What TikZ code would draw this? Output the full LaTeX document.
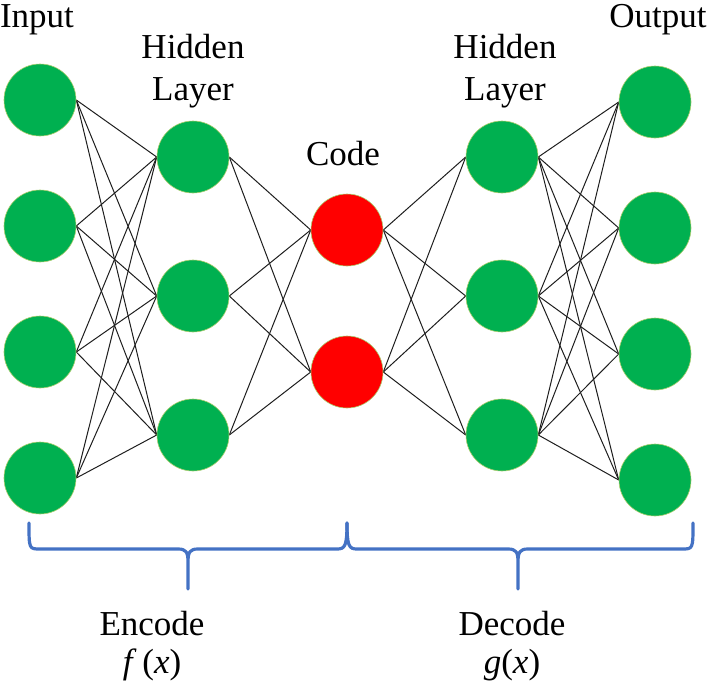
\documentclass[tikz,border=0pt]{standalone}
\usepackage{fontspec}
\setmainfont{Liberation Serif}
\newfontfamily\timesface{Liberation Serif}
\usetikzlibrary{backgrounds}
\definecolor{nodegreen}{RGB}{0,176,80}
\definecolor{codered}{RGB}{255,0,0}
\definecolor{rimgreen}{RGB}{170,205,110}
\definecolor{braceblue}{RGB}{68,114,196}
\definecolor{wiregray}{RGB}{30,30,30}
\tikzset{
  unit/.style={circle, minimum size=72pt, inner sep=0pt, fill=nodegreen, draw=rimgreen, line width=0.6pt},
  codeunit/.style={unit, fill=codered},
  wire/.style={draw=wiregray, line width=1pt},
  bracepath/.style={draw=braceblue, line width=3.2pt, line cap=round, line join=round},
  tag/.style={font=\timesface\fontsize{35}{42}\selectfont, inner sep=0pt, anchor=base, align=center}
}

\begin{document}
\begin{tikzpicture}[x=1pt, y=-1pt]
\useasboundingbox (0,0) rectangle (708,688);
% input and output layers
\foreach \i/\y in {1/100,2/226,3/352,4/478} {
  \node[unit] (in-\i) at (40,\y) {};
  \node[unit] (out-\i) at (655,\y+2) {};
}
% hidden layers
\foreach \i/\y in {1/157,2/296,3/435} {
  \node[unit] (enc-\i) at (193,\y) {};
  \node[unit] (dec-\i) at (502,\y) {};
}
% code
\node[codeunit] (code-1) at (347,230) {};
\node[codeunit] (code-2) at (347,372) {};

\begin{scope}[on background layer]
\foreach \a in {1,...,4} \foreach \b in {1,2,3} {
  \draw[wire] (in-\a.east) -- (enc-\b.west);
  \draw[wire] (dec-\b.east) -- (out-\a.west);
}
\foreach \a in {1,2,3} \foreach \b in {1,2} {
  \draw[wire] (enc-\a.east) -- (code-\b.west);
  \draw[wire] (code-\b.east) -- (dec-\a.west);
}
\end{scope}

% layer names (base = last line)
\node[tag] (t-in) at (37,27) {Input};
\node[tag] (t-enc) at (193,100) {Hidden\\Layer};
\node[tag] (t-code) at (343,165) {Code};
\node[tag] (t-dec) at (505,100) {Hidden\\Layer};
\node[tag] (t-out) at (658,27) {Output};

% braces
\draw[bracepath] (29,523) .. controls (29,549) .. (40,549) -- (178,549)
  .. controls (186,549) and (188,552) .. (188,562) -- (188,589)
  (188,562) .. controls (188,552) and (190,549) .. (198,549) -- (337,549)
  .. controls (345,549) and (347,546) .. (347,523);
\draw[bracepath] (347,523) .. controls (347,546) and (349,549) .. (357,549) -- (508,549)
  .. controls (516,549) and (518,552) .. (518,562) -- (518,589)
  (518,562) .. controls (518,552) and (520,549) .. (528,549) -- (682,549)
  .. controls (693,549) .. (693,523);

\node[tag] (t-encode) at (152,673) {Encode\\[-4pt]\textit{f}\,(\textit{x})};
\node[tag] (t-decode) at (512,673) {Decode\\[-4pt]\textit{g}(\textit{x})};
\end{tikzpicture}
\end{document}
